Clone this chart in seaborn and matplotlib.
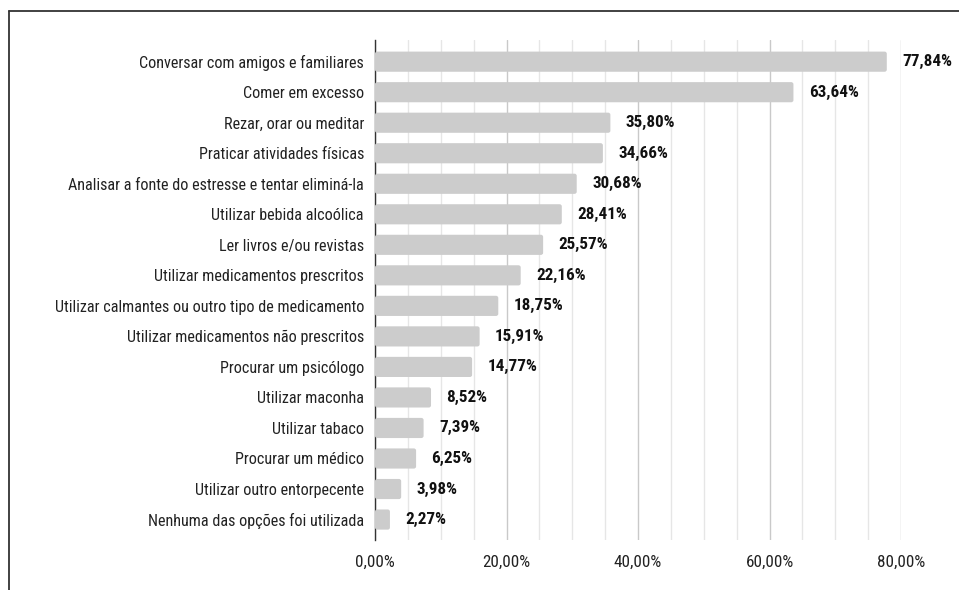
import matplotlib
matplotlib.use("Agg")
import matplotlib.pyplot as plt
from matplotlib.lines import Line2D
from matplotlib.patches import FancyBboxPatch
from matplotlib.ticker import FixedLocator, MultipleLocator, FuncFormatter
import seaborn as sns
import pandas as pd

categories = [
    "Conversar com amigos e familiares",
    "Comer em excesso",
    "Rezar, orar ou meditar",
    "Praticar atividades físicas",
    "Analisar a fonte do estresse e tentar eliminá-la",
    "Utilizar bebida alcoólica",
    "Ler livros e/ou revistas",
    "Utilizar medicamentos prescritos",
    "Utilizar calmantes ou outro tipo de medicamento",
    "Utilizar medicamentos não prescritos",
    "Procurar um psicólogo",
    "Utilizar maconha",
    "Utilizar tabaco",
    "Procurar um médico",
    "Utilizar outro entorpecente",
    "Nenhuma das opções foi utilizada",
]
values = [77.84, 63.64, 35.80, 34.66, 30.68, 28.41, 25.57, 22.16,
          18.75, 15.91, 14.77, 8.52, 7.39, 6.25, 3.98, 2.27]
x_ticks = [0, 20, 40, 60, 80]

sns.set_theme(style="white")
plt.rcParams["font.family"] = ["Roboto Condensed", "DejaVu Sans"]

df = pd.DataFrame({"categoria": categories, "valor": values})

fig = plt.figure(figsize=(9.59, 5.90), dpi=100)
ax = fig.add_axes([375 / 959, 1 - 540 / 590, (901 - 375) / 959, 500 / 590])

sns.barplot(data=df, x="valor", y="categoria", orient="h", color="#cccccc",
            saturation=1, width=0.66, errorbar=None, ax=ax, zorder=3)

# swap the plain rectangles for slightly rounded ones
for rect in list(ax.patches):
    x, y = rect.get_x(), rect.get_y()
    w, h = rect.get_width(), rect.get_height()
    rect.remove()
    ax.add_patch(FancyBboxPatch((x, y), w, h,
                                boxstyle="round,pad=0,rounding_size=0.35",
                                mutation_aspect=0.2, facecolor="#cccccc",
                                edgecolor="none", zorder=3))

ax.set_xlim(0, 80)
ax.set_ylim(15.67, -0.71)

# grid: light lines every 5 %, darker every 20 %
ax.xaxis.set_major_locator(FixedLocator(x_ticks))
ax.xaxis.set_minor_locator(MultipleLocator(5))
ax.xaxis.set_major_formatter(FuncFormatter(lambda v, _: f"{v:.2f}".replace(".", ",") + "%"))
ax.grid(axis="x", which="minor", color="#e6e6e6", linewidth=1.0, zorder=0)
ax.grid(axis="x", which="major", color="#c9c9c9", linewidth=1.0, zorder=0)
ax.set_axisbelow(True)

for side in ("top", "right", "bottom"):
    ax.spines[side].set_visible(False)
ax.spines["left"].set_color("#333333")
ax.spines["left"].set_linewidth(1.0)
ax.spines["left"].set_zorder(1)

ax.set_xlabel("")
ax.set_ylabel("")
ax.tick_params(axis="both", which="both", length=0)
ax.tick_params(axis="y", pad=8, labelsize=11.6, labelcolor="#222222")
ax.tick_params(axis="x", pad=11, labelsize=12.3, labelcolor="#222222")

for i, v in enumerate(values):
    ax.annotate(f"{v:.2f}".replace(".", ",") + "%", xy=(v, i), xytext=(15.5, 0),
                textcoords="offset pixels", ha="left", va="center",
                fontsize=12.3, fontweight="bold", color="#111111",
                annotation_clip=False, zorder=4)

# outer frame (top and left edges)
fig.add_artist(Line2D([9 / 959, 1.0], [1 - 11 / 590, 1 - 11 / 590],
                      transform=fig.transFigure, color="#333333", linewidth=1.3))
fig.add_artist(Line2D([9 / 959, 9 / 959], [1 - 11 / 590, 0.0],
                      transform=fig.transFigure, color="#333333", linewidth=1.3))

fig.savefig("out.png", dpi=100, facecolor="white")
